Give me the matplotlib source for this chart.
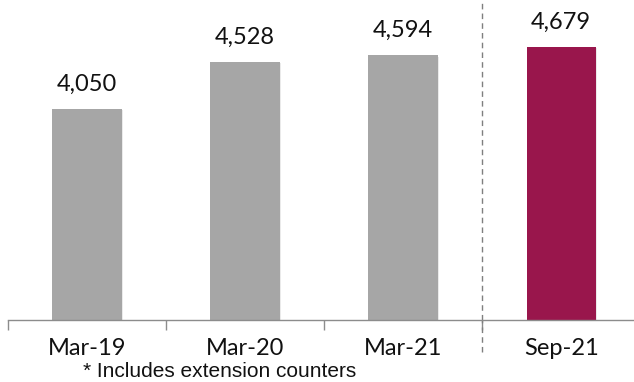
import matplotlib.pyplot as plt
import matplotlib.patheffects as pe
from matplotlib.lines import Line2D

# data
periods = ['Mar-19', 'Mar-20', 'Mar-21', 'Sep-21']
counters = [4050, 4528, 4594, 4679]
bar_colors = ['#A6A6A6', '#A6A6A6', '#A6A6A6', '#99164C']
footnote = '* Includes extension counters'

W, H = 634, 382
fig = plt.figure(figsize=(W / 100, H / 100), dpi=100)
ax = fig.add_axes([8 / W, (H - 320) / H, (W - 8) / W, 320 / H])

x = range(len(periods))
bars = ax.bar(x, counters, width=0.44, color=bar_colors, zorder=2)
for b in bars:
    b.set_path_effects([pe.SimplePatchShadow(offset=(1, -1), shadow_rgbFace='#999999', alpha=0.2),
                        pe.Normal()])

for xi, v in zip(x, counters):
    ax.annotate(f'{v:,}', (xi, v), xytext=(0, 13), textcoords='offset points',
                ha='center', va='baseline', fontsize=17, family='Lato', color='#111111')

ax.set_xlim(-0.5, 3.46)
ax.set_ylim(1900, 5155)

for s in ['top', 'right', 'left']:
    ax.spines[s].set_visible(False)
ax.spines['bottom'].set_color('#8C8C8C')
ax.spines['bottom'].set_linewidth(1.0)
ax.set_yticks([])

ax.set_xticks(list(x))
ax.set_xticklabels(periods, fontsize=17, family='Lato', color='#111111')
ax.tick_params(axis='x', which='major', length=0, pad=13)
ax.set_xticks([-0.5, 0.5, 1.5, 2.5], minor=True)
ax.tick_params(axis='x', which='minor', length=7, width=1.0, color='#8C8C8C')

# dashed separator before the half-year bar
ax.add_line(Line2D([2.5, 2.5], [0, 1.0], transform=ax.get_xaxis_transform(),
                   color='#7F7F7F', lw=1.0, ls=(0, (4, 3)), zorder=1))
ax.add_line(Line2D([2.5, 2.5], [-0.1, 0], transform=ax.get_xaxis_transform(),
                   color='#7F7F7F', lw=1.0, ls=(0, (4, 3)), clip_on=False))

fig.text(83 / W, 1 - 377 / H, footnote, fontsize=15, family='Liberation Sans',
         color='#111111', va='baseline', ha='left')

fig.savefig('out.png', dpi=100)
